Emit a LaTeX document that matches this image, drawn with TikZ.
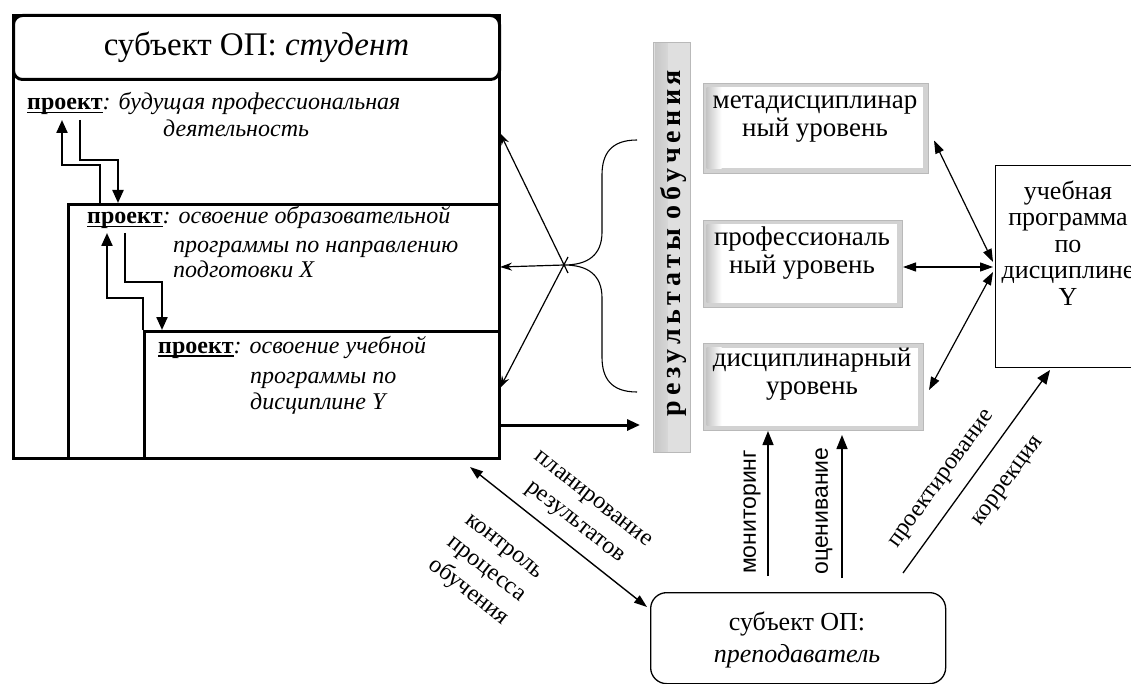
\documentclass[tikz,border=0pt]{standalone}
\usepackage{fontspec}
\setmainfont{Liberation Serif}
\setsansfont{Liberation Sans}
\usetikzlibrary{arrows.meta}
\newcommand\myul[1]{\setbox0\hbox{#1}\rlap{\rule[-3.5pt]{\wd0}{1.4pt}}\box0}
\begin{document}
\begin{tikzpicture}[x=1pt,y=-1pt,
  every node/.style={inner sep=0pt},
  stxt/.style={anchor=base west, font=\fontsize{24}{28}\selectfont},
  lvltxt/.style={align=center, font=\fontsize{27}{28.5}\selectfont},
  lbl/.style={align=center, font=\fontsize{24}{29}\selectfont},
  slbl/.style={font=\sffamily\fontsize{23}{26}\selectfont, rotate=90},
  bevel/.style={draw=gray!55, line width=1pt, fill=gray!35,
    path picture={
      \fill[white] ([xshift=6pt,yshift=-4pt]path picture bounding box.north west) rectangle ([xshift=-6pt,yshift=5pt]path picture bounding box.south east);
      \shade[left color=gray!45, right color=white] ([xshift=3pt,yshift=-4pt]path picture bounding box.north west) rectangle ([xshift=18pt,yshift=5pt]path picture bounding box.south west);
    }},
  thickarr/.style={line width=2.2pt, -{Triangle[length=13pt,width=11pt]}},
  thinarr/.style={line width=1.2pt, -{Stealth[length=12pt,width=8pt]}},
  dblarr/.style={line width=1.2pt, {Triangle[length=13pt,width=9pt]}-{Triangle[length=13pt,width=9pt]}},
  uparr/.style={line width=1.4pt, -{Triangle[length=14pt,width=11pt]}}
]
\useasboundingbox (0,0) rectangle (1131,684);
\clip (0,0) rectangle (1131,684);

% ---------- student block ----------
\node[draw, line width=3pt, minimum width=486pt, minimum height=443pt, anchor=north west] (stud) at (12,14) {};
\node[draw, fill=white, rounded corners=9pt, line width=3pt, minimum width=486pt, minimum height=64pt, anchor=north west,
      font=\fontsize{33}{38}\selectfont] (title) at (12,14) {субъект ОП: \textit{студент}};
\node[draw, line width=2.6pt, minimum width=431pt, minimum height=254pt, anchor=north west] (p2) at (67,203) {};
\node[draw, line width=2.6pt, minimum width=355pt, minimum height=127pt, anchor=north west] (p3) at (143,330) {};

\node[stxt] (t1a) at (27,110) {\myul{\textbf{проект}}\textit{: будущая профессиональная}};
\node[stxt] (t1b) at (163,137) {\textit{деятельность}};

\node[stxt] (t2a) at (87,224) {\myul{\textbf{проект}}\textit{: освоение образовательной}};
\node[stxt] (t2b) at (173,253) {\textit{программы по направлению}};
\node[stxt] (t2c) at (173,278) {\textit{подготовки X}};

\node[stxt] (t3a) at (158,353) {\myul{\textbf{проект}}\textit{: освоение учебной}};
\node[stxt] (t3b) at (250,383) {\textit{программы по}};
\node[stxt] (t3c) at (250,409) {\textit{дисциплине Y}};

% nested feedback arrows
\draw[thickarr] (p2.north west -| 100,0) -- (100,165) -- (62,165) -- (62,120);
\draw[thickarr] (80,120) -- (80,160) -- (118,160) -- (p2.north west -| 118,0);
\draw[thickarr] (p3.north west) -- (143,298) -- (107,298) -- (107,233);
\draw[thickarr] (125,233) -- (125,282) -- (162,282) -- (p3.north west -| 162,0);

% ---------- results bar ----------
\node[bevel, fill=gray!25, minimum width=37pt, minimum height=410pt, anchor=north west,
  path picture={\shade[left color=gray!45, right color=gray!10] ([xshift=2pt]path picture bounding box.north west) rectangle ([xshift=14pt]path picture bounding box.south west);}] (bar) at (653,42) {};
\node[rotate=90, font=\bfseries\fontsize{28}{30}\selectfont] (bartxt) at (673,243)
  {\hbox to 346pt{р\hfill е\hfill з\hfill у\hfill л\hfill ь\hfill т\hfill а\hfill т\hfill ы\hfill\hfill о\hfill б\hfill у\hfill ч\hfill е\hfill н\hfill и\hfill я}};

% brace
\coordinate (bc) at (564,265);
\draw[line width=1.1pt] (637,140) .. controls (610,140) and (602,155) .. (602,175) -- (602,232)
  .. controls (602,255) and (588,265) .. (bc) .. controls (588,265) and (602,275) .. (602,298)
  -- (602,357) .. controls (602,377) and (610,392) .. (637,392);
\coordinate (e1) at (500,133);
\coordinate (e2) at (500,267);
\coordinate (e3) at (500,388);
\draw[thinarr] (568,273) -- (e1);
\draw[thinarr] (bc) -- (e2);
\draw[thinarr] (568,257) -- (e3);

\draw[thickarr, line width=3pt] (stud.east |- 0,425) -- (640,425);

% ---------- level boxes ----------
\node[bevel, minimum width=225pt, minimum height=90pt, anchor=north west] (meta) at (703,83) {};
\node[lvltxt] (metat) at (815,119) {метадисциплинар\\ный уровень};
\node[bevel, minimum width=199pt, minimum height=87pt, anchor=north west] (prof) at (703,220) {};
\node[lvltxt] (proft) at (802,253) {профессиональ\\ный уровень};
\node[bevel, minimum width=220pt, minimum height=87pt, anchor=north west] (disc) at (703,343) {};
\node[lvltxt] (disct) at (812,374) {дисциплинарный\\уровень};

% ---------- curriculum box ----------
\node[draw, line width=1.2pt, minimum width=150pt, minimum height=202pt, anchor=north west] (cur) at (995,165) {};
\node[lvltxt, font=\fontsize{26}{26.5}\selectfont] (curt) at (1068,243) {учебная\\программа\\по\\дисциплине\\Y};

\coordinate (R1) at (993,262);
\coordinate (R2) at (993,267);
\coordinate (R3) at (993,272);
\draw[dblarr] ([xshift=5pt,yshift=-12pt]meta.east) -- (R1);
\draw[dblarr] (prof.east |- R2) -- (R2);
\draw[dblarr] ([xshift=5pt,yshift=-3pt]disc.east) -- (R3);

% ---------- teacher ----------
\node[draw, line width=1.3pt, rounded corners=16pt, minimum width=295pt, minimum height=91pt, anchor=north west] (teach) at (650,592) {};
\node[lbl, font=\fontsize{26}{32}\selectfont] (teacht) at (797,640) {субъект ОП:\\\textit{преподаватель}};

\draw[uparr] (768,576) -- (disc.south -| 768,0);
\draw[uparr] (842,578) -- (842,435);
\node[slbl] (mon) at (752,512) {мониторинг};
\node[slbl] (oce) at (824,511) {оценивание};

\draw[dblarr, line width=1.4pt] (470,467) -- ([xshift=-3pt,yshift=-15pt]teach.north west);
\node[lbl, rotate=-38] (plan) at (583,512) {планирование\\результатов};
\node[lbl, rotate=-38] (ctrl) at (485,571) {контроль\\процесса\\обучения};

\draw[line width=1.3pt, -{Triangle[length=14pt,width=11pt]}] (903,573) -- (1050,370);
\node[lbl, rotate=54] (proj) at (943,480) {проектирование};
\node[lbl, rotate=54] (corr) at (1009,482) {коррекция};
\end{tikzpicture}
\end{document}
